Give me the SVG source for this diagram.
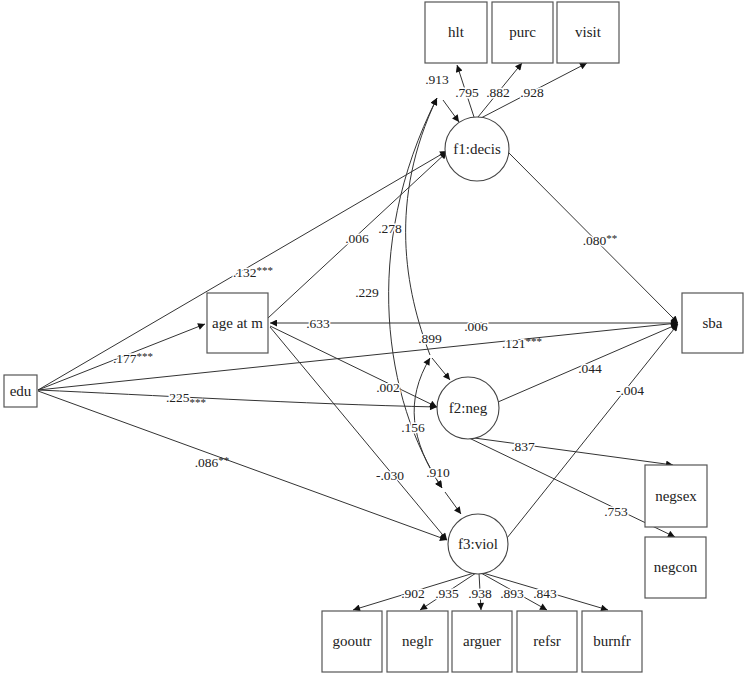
<svg xmlns="http://www.w3.org/2000/svg" width="746" height="676" viewBox="0 0 746 676" font-family="Liberation Serif, DejaVu Serif, serif">
<style>
.box{fill:#fff;stroke:#555;stroke-width:1.2}
.lat{fill:#fff;stroke:#444;stroke-width:1.1}
.nt{font-family:"Liberation Serif",serif;font-size:15px;fill:#222;text-anchor:middle}
.e{fill:none;stroke:#333;stroke-width:1}
.a{marker-end:url(#ah)}
.b{marker-start:url(#ahs);marker-end:url(#ah)}
.l{font-family:"Liberation Serif",serif;font-size:13.5px;fill:#222;text-anchor:middle;stroke:#fff;stroke-width:3;paint-order:stroke}
.s{font-size:11px;stroke:none;fill:#222}
</style>
<defs>
<marker id="ah" viewBox="0 0 10 10" refX="10" refY="5" markerWidth="9" markerHeight="7" markerUnits="userSpaceOnUse" orient="auto"><path d="M0,0L10,5L0,10z" fill="#111"/></marker>
<marker id="ahs" viewBox="0 0 10 10" refX="0" refY="5" markerWidth="9" markerHeight="7" markerUnits="userSpaceOnUse" orient="auto"><path d="M10,0L0,5L10,10z" fill="#111"/></marker>
</defs>
<rect width="746" height="676" fill="#fff"/>
<g id="connectors">
<path class="e a" d="M38,390L447,151"/>
<path class="e a" d="M38,390L205,324"/>
<path class="e a" d="M38,390L678,323"/>
<path class="e a" d="M38,390C150,395 300,404 437,407"/>
<path class="e a" d="M38,391L447,540"/>
<path class="e a" d="M268,318L447,152"/>
<path class="e b" d="M270,323L678,323"/>
<path class="e a" d="M270,326L437,407"/>
<path class="e a" d="M270,327L447,540"/>
<path class="e a" d="M508,152L678,323"/>
<path class="e a" d="M498,402L678,324"/>
<path class="e a" d="M507,538L678,324"/>
<path class="e a" d="M474,117L457,65"/>
<path class="e a" d="M478,117L522,63"/>
<path class="e a" d="M481,118L587,63"/>
<path class="e a" d="M467,437L673,465"/>
<path class="e a" d="M467,437L675,537"/>
<path class="e a" d="M474,573L353,610"/>
<path class="e a" d="M476,573L420,610"/>
<path class="e a" d="M479,573L481,610"/>
<path class="e a" d="M481,573L547,610"/>
<path class="e a" d="M483,573L608,610"/>
<path class="e b" d="M442,488C385,400 360,250 437,98"/>
<path class="e a" d="M430,355C405,290 388,200 437,98"/>
<path class="e b" d="M442,488C410,440 405,400 430,358"/>
<path class="e a" d="M443,100L459,122"/>
<path class="e a" d="M432,358L450,380"/>
<path class="e a" d="M445,492L461,514"/>
</g>
<g id="labels">
<text class="l" x="253" y="277">.132<tspan class="s" dy="-3">***</tspan></text>
<text class="l" x="133" y="363">.177<tspan class="s" dy="-3">***</tspan></text>
<text class="l" x="186" y="402">.225<tspan class="s" dy="4">***</tspan></text>
<text class="l" x="212" y="467">.086<tspan class="s" dy="-3">**</tspan></text>
<text class="l" x="522" y="348">.121<tspan class="s" dy="-3">***</tspan></text>
<text class="l" x="357" y="243">.006</text>
<text class="l" x="318" y="328">.633</text>
<text class="l" x="476" y="331">.006</text>
<text class="l" x="388" y="392">.002</text>
<text class="l" x="390" y="480">-.030</text>
<text class="l" x="600" y="245">.080<tspan class="s" dy="-3">**</tspan></text>
<text class="l" x="590" y="373">.044</text>
<text class="l" x="630" y="395">-.004</text>
<text class="l" x="437" y="84">.913</text>
<text class="l" x="467" y="97">.795</text>
<text class="l" x="498" y="97">.882</text>
<text class="l" x="532" y="97">.928</text>
<text class="l" x="390" y="233">.278</text>
<text class="l" x="367" y="297">.229</text>
<text class="l" x="430" y="343">.899</text>
<text class="l" x="413" y="432">.156</text>
<text class="l" x="438" y="477">.910</text>
<text class="l" x="523" y="451">.837</text>
<text class="l" x="616" y="516">.753</text>
<text class="l" x="413" y="598">.902</text>
<text class="l" x="447" y="598">.935</text>
<text class="l" x="480" y="598">.938</text>
<text class="l" x="512" y="598">.893</text>
<text class="l" x="545" y="598">.843</text>
</g>
<g id="edu"><rect class="box" x="4" y="375" width="33" height="32"/><text class="nt" x="20.5" y="396">edu</text></g>
<g id="agem"><rect class="box" x="207" y="293" width="61" height="60"/><text class="nt" x="237.5" y="328">age at m</text></g>
<g id="sba"><rect class="box" x="682" y="293" width="61" height="60"/><text class="nt" x="712.5" y="328">sba</text></g>
<g id="f1"><circle class="lat" cx="477" cy="149" r="32"/><text class="nt" x="477" y="154">f1:decis</text></g>
<g id="f2"><circle class="lat" cx="468" cy="408" r="31"/><text class="nt" x="468" y="413">f2:neg</text></g>
<g id="f3"><circle class="lat" cx="478" cy="544" r="30"/><text class="nt" x="478" y="549">f3:viol</text></g>
<g id="hlt"><rect class="box" x="425" y="2" width="62" height="61"/><text class="nt" x="456" y="37">hlt</text></g>
<g id="purc"><rect class="box" x="492" y="2" width="61" height="61"/><text class="nt" x="522.5" y="37">purc</text></g>
<g id="visit"><rect class="box" x="557" y="2" width="62" height="61"/><text class="nt" x="588" y="37">visit</text></g>
<g id="negsex"><rect class="box" x="645" y="465" width="62" height="62"/><text class="nt" x="676" y="501">negsex</text></g>
<g id="negcon"><rect class="box" x="645" y="537" width="61" height="61"/><text class="nt" x="675.5" y="572">negcon</text></g>
<g id="gooutr"><rect class="box" x="322" y="611" width="60" height="61"/><text class="nt" x="352" y="646">gooutr</text></g>
<g id="neglr"><rect class="box" x="387" y="611" width="61" height="61"/><text class="nt" x="417.5" y="646">neglr</text></g>
<g id="arguer"><rect class="box" x="452" y="611" width="60" height="61"/><text class="nt" x="482" y="646">arguer</text></g>
<g id="refsr"><rect class="box" x="517" y="611" width="60" height="61"/><text class="nt" x="547" y="646">refsr</text></g>
<g id="burnfr"><rect class="box" x="582" y="611" width="60" height="61"/><text class="nt" x="612" y="646">burnfr</text></g>
</svg>
